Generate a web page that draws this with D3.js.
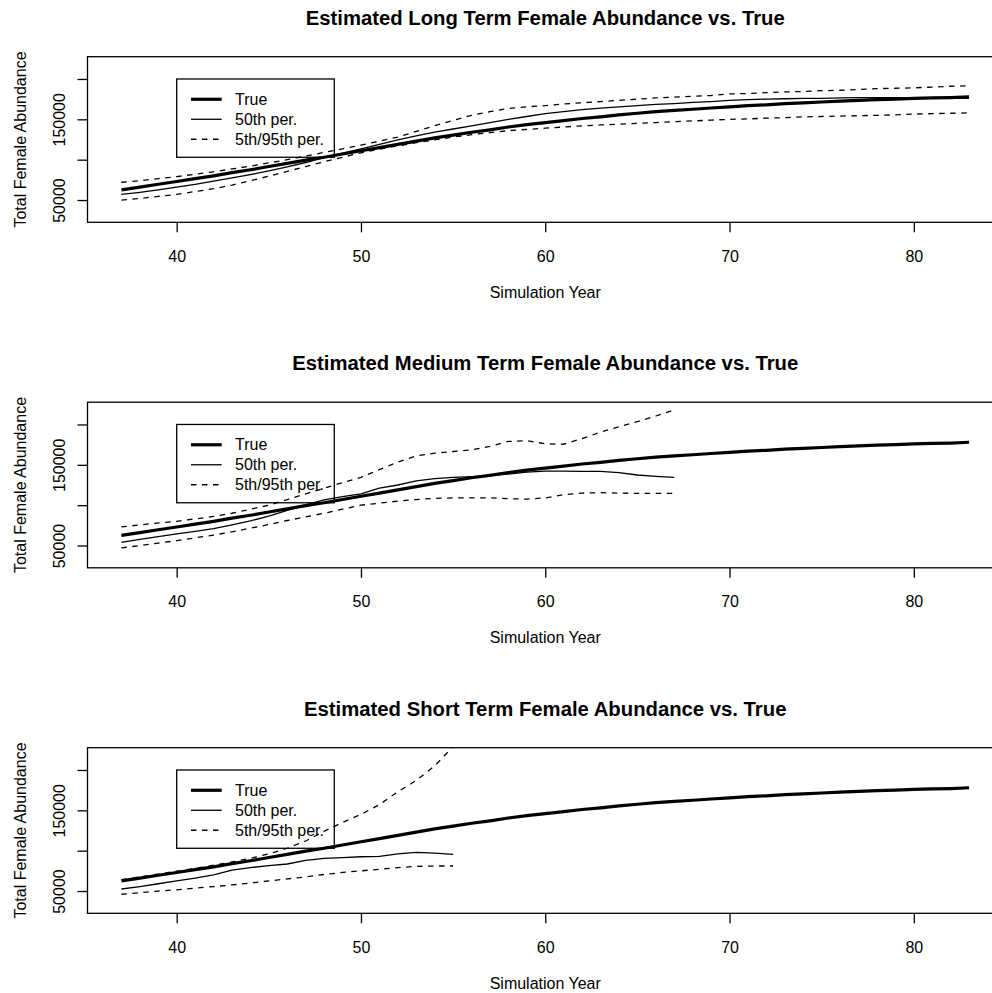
<!doctype html>
<meta charset='utf-8' />
<script src='https://cdn.jsdelivr.net/npm/d3@7'></script>
<style>
    body { margin: 0; background: #fff; }
    svg { display: block; font-family: 'Liberation Sans', Arial, Helvetica, sans-serif; }
</style>
<svg></svg>
<script>
    var width = 992,
        height = 993,
        fontSize = 16

    // simulation years 37..83
    var years = d3.range(37, 84)

    var trueAbund = [62500, 66000, 69500, 73000, 76500, 80000, 84000, 87500, 91500, 95500,
        99500, 103000, 107000, 111000, 115000, 119000, 123000, 127000, 130500, 134000,
        137000, 140500, 143500, 146000, 148500, 151000, 153000, 155500, 157500, 159500,
        161000, 162500, 164000, 165500, 167000, 168000, 169500, 170500, 171500, 172500,
        173500, 174500, 175000, 176000, 176500, 177000, 178000]

    // long term: 37..83
    var longMed = [57000, 59500, 62500, 66000, 69500, 73500, 77500, 81500, 86000, 91000,
        96500, 102500, 108000, 113500, 119000, 124500, 129500, 134000, 138000, 142000,
        146000, 150000, 153500, 157000, 159500, 162000, 164000, 165500, 167000, 168500,
        169500, 171000, 172000, 173500, 174500, 175000, 175500, 176000, 176000, 176500,
        177000, 177000, 177000, 176500, 176500, 176000, 176000]
    var longLo = [50000, 52000, 54500, 57000, 60500, 64000, 68500, 74000, 79500, 85500,
        91500, 97500, 103000, 108500, 113000, 117000, 121000, 124500, 128000, 131000,
        133500, 136000, 137500, 139000, 140500, 142000, 143000, 144000, 145000, 146000,
        147000, 148000, 149000, 150000, 150500, 151500, 152000, 153000, 153500, 154000,
        154500, 155000, 155500, 156500, 157000, 157500, 158000]
    var longHi = [72000, 74000, 76500, 79000, 82000, 85000, 88500, 92000, 96000, 100000,
        104500, 109000, 113500, 118000, 123000, 128000, 135000, 142000, 148500, 155000,
        159500, 163500, 165500, 167000, 169000, 170500, 172000, 173500, 175000, 176500,
        177500, 178500, 179500, 181500, 182000, 183000, 184000, 184500, 185500, 186000,
        187000, 188000, 188500, 189000, 190000, 191000, 191500]

    // medium term: 37..67
    var medMed = [54000, 57500, 61000, 64500, 67500, 71000, 75500, 80500, 86500, 93500,
        100500, 106500, 110500, 114000, 121000, 125000, 130000, 133000, 134500, 135500,
        136500, 138500, 141000, 142300, 142300, 141900, 141900, 140300, 137400, 135700,
        134500]
    var medLo = [47000, 50000, 53000, 56000, 59500, 63000, 67000, 71500, 76000, 81000,
        85500, 90000, 95000, 100000, 102500, 105000, 107000, 108500, 109000, 109000,
        109000, 108000, 107500, 109000, 113000, 115000, 115500, 115000, 114500, 114500,
        114500]
    var medHi = [73000, 75500, 78000, 80000, 83000, 86000, 90000, 95000, 100000, 107000,
        114000, 121000, 128000, 134500, 144000, 153500, 161000, 164500, 166500, 168500,
        173000, 179000, 180000, 176000, 175500, 182500, 190500, 197000, 203500, 210500,
        218000]

    // short term: 37..55
    var shortMed = [52500, 55500, 59000, 62500, 66000, 70000, 76000, 79000, 81500, 83500,
        88000, 90500, 91500, 92500, 93000, 96000, 98000, 97000, 95500]
    var shortLo = [46000, 48000, 50000, 51500, 53500, 55500, 57500, 60000, 62500, 65000,
        67500, 70500, 73000, 75000, 77000, 79000, 80500, 81000, 81000]
    var shortHi = [64000, 67500, 71000, 74500, 78000, 82000, 86000, 90500, 96000, 103000,
        112000, 124000, 135000, 145000, 157000, 173000, 187000, 205000, 229000]

    var panels = [
        { title: 'Estimated Long Term Female Abundance vs. True', med: longMed, lo: longLo, hi: longHi },
        { title: 'Estimated Medium Term Female Abundance vs. True', med: medMed, lo: medLo, hi: medHi },
        { title: 'Estimated Short Term Female Abundance vs. True', med: shortMed, lo: shortLo, hi: shortHi }
    ]

    var xTicks = [40, 50, 60, 70, 80],
        yTicks = [50000, 100000, 150000, 200000],
        yLabels = [50000, 150000]

    var legendItems = [
        { name: 'True', w: 3.2, dash: null },
        { name: '50th per.', w: 1.3, dash: null },
        { name: '5th/95th per.', w: 1.3, dash: '5.5,5.5' }
    ]

    var left = 87.5, right = 1003,
        top0 = 56.7, panelStep = 345.5, boxH = 165.6

    var svg = d3.select('svg')
        .attr('width', width)
        .attr('height', height)

    var x = d3.scaleLinear().domain([35.16, 84.84]).range([left, right])

    panels.forEach(function (p, i) {
        var top = top0 + i * panelStep,
            bottom = top + boxH
        var y = d3.scaleLinear().domain([22400, 227600]).range([bottom, top])
        var g = svg.append('g')

        g.append('clipPath').attr('id', 'clip' + i)
            .append('rect')
            .attr('x', left).attr('y', top)
            .attr('width', right - left).attr('height', boxH)

        var line = d3.line()
            .x(function (d, k) { return x(years[k]) })
            .y(function (d) { return y(d) })

        var plot = g.append('g').attr('clip-path', 'url(#clip' + i + ')')

        plot.append('path').datum(trueAbund)
            .attr('d', line)
            .style('fill', 'none').style('stroke', '#000').style('stroke-width', 3.2)
        plot.append('path').datum(p.med)
            .attr('d', line)
            .style('fill', 'none').style('stroke', '#000').style('stroke-width', 1.3)
        plot.selectAll('.band')
            .data([p.lo, p.hi])
            .enter()
            .append('path')
            .attr('d', line)
            .style('fill', 'none').style('stroke', '#000').style('stroke-width', 1.3)
            .style('stroke-dasharray', '5.5,5.5')

        // box
        g.append('rect')
            .attr('x', left).attr('y', top)
            .attr('width', right - left).attr('height', boxH)
            .style('fill', 'none').style('stroke', '#000').style('stroke-width', 1.3)

        // x axis
        var xAxis = g.append('g').attr('transform', 'translate(0,' + bottom + ')')
            .call(d3.axisBottom(x).tickValues(xTicks).tickSize(10).tickPadding(18))
        xAxis.select('.domain').remove()
        xAxis.selectAll('line').style('stroke-width', 1.3)
        xAxis.selectAll('text').style('font-size', fontSize + 'px').style('font-family', 'inherit')

        // y axis
        var yAxis = g.append('g').attr('transform', 'translate(' + left + ',0)')
            .call(d3.axisLeft(y).tickValues(yTicks).tickSize(10)
                .tickFormat(function (d) { return yLabels.indexOf(d) >= 0 ? d : '' }))
        yAxis.select('.domain').remove()
        yAxis.selectAll('line').style('stroke-width', 1.3)
        yAxis.selectAll('text')
            .attr('x', null).attr('dy', null)
            .attr('text-anchor', 'middle')
            .attr('transform', 'translate(-28.5,0) rotate(-90)')
            .attr('dy', '0.35em')
            .style('font-size', fontSize + 'px').style('font-family', 'inherit')

        // titles
        g.append('text')
            .attr('x', (left + right) / 2).attr('y', top - 32.2)
            .attr('text-anchor', 'middle')
            .style('font-size', '20.3px').style('font-weight', 'bold')
            .text(p.title)
        g.append('text')
            .attr('x', (left + right) / 2).attr('y', bottom + 70)
            .attr('dy', '0.35em')
            .attr('text-anchor', 'middle')
            .style('font-size', fontSize + 'px')
            .text('Simulation Year')
        g.append('text')
            .attr('transform', 'translate(20,' + (top + boxH / 2) + ') rotate(-90)')
            .attr('dy', '0.35em')
            .attr('text-anchor', 'middle')
            .style('font-size', fontSize + 'px')
            .text('Total Female Abundance')

        // legend at (40, 200000), no fill so the lines show through
        var lx = x(40), ly = y(200000)
        var leg = g.append('g').attr('transform', 'translate(' + lx + ',' + ly + ')')
        leg.append('rect')
            .attr('width', 157.6).attr('height', 78.3)
            .style('fill', 'none').style('stroke', '#000').style('stroke-width', 1.3)
        var rows = leg.selectAll('.row')
            .data(legendItems)
            .enter()
            .append('g')
            .attr('transform', function (d, k) { return 'translate(0,' + (20.3 + k * 20) + ')' })
        rows.append('line')
            .attr('x1', 14.3).attr('x2', 45)
            .style('stroke', '#000')
            .style('stroke-width', function (d) { return d.w })
            .style('stroke-dasharray', function (d) { return d.dash })
        rows.append('text')
            .attr('x', 58.3).attr('dy', '0.35em')
            .style('font-size', fontSize + 'px')
            .text(function (d) { return d.name })
    })
</script>
